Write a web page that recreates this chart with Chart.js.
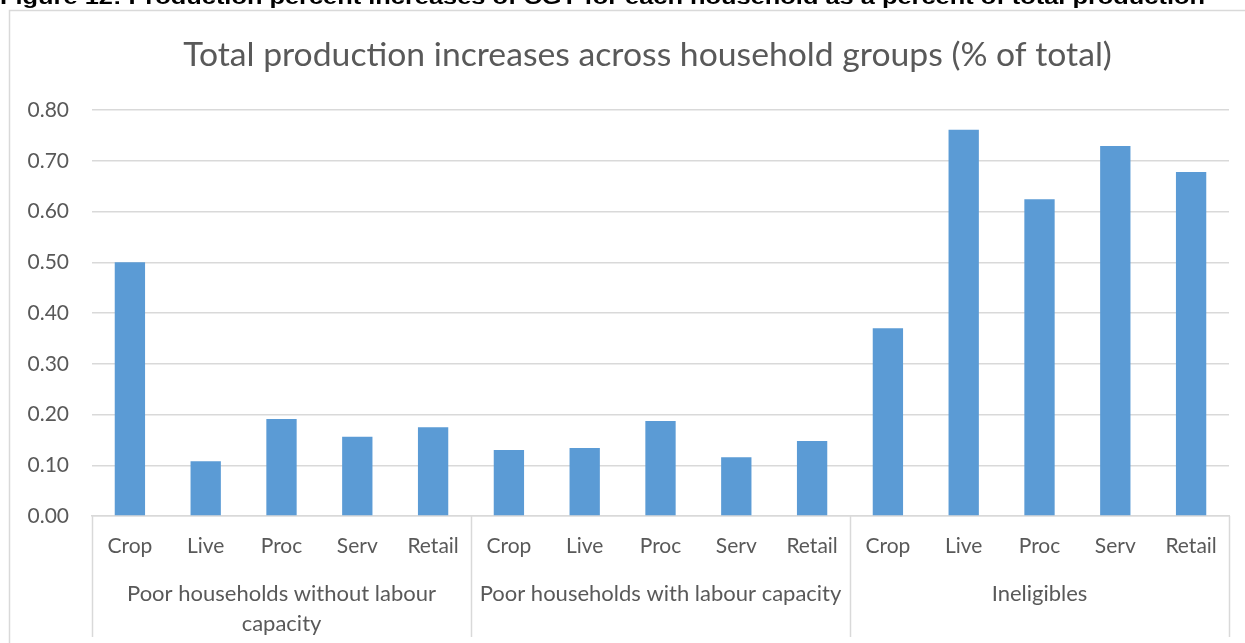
<!DOCTYPE html>
<html>
<head>
<meta charset="utf-8">
<script src="https://cdn.jsdelivr.net/npm/chart.js@4/dist/chart.umd.min.js"></script>
<style>
html, body { margin: 0; padding: 0; background: #fff; overflow: hidden; }
canvas { display: block; }
</style>
</head>
<body>
<canvas id="c" width="1245" height="643"></canvas>
<script>
// Sector labels repeated for each household group
const sectors = ['Crop', 'Live', 'Proc', 'Serv', 'Retail'];
const groupLabels = [
  ['Poor households without labour', 'capacity'],
  ['Poor households with labour capacity'],
  ['Ineligibles']
];
// Production increase (% of total) per sector
const withoutLabour = [0.500, 0.108, 0.191, 0.156, 0.175];
const withLabour    = [0.130, 0.134, 0.187, 0.116, 0.148];
const ineligibles   = [0.370, 0.761, 0.624, 0.729, 0.678];
const yTickStep = 0.1;
const yMax = 0.8;

const chartTitle = 'Total production increases across household groups (% of total)';
const figureCaption = 'Figure 12: Production percent increases of CGT for each household as a percent of total production';

const labels = [...sectors, ...sectors, ...sectors];
const values = [...withoutLabour, ...withLabour, ...ineligibles];

const TEXT = '#595959';
const LINE = '#d9d9d9';
const FONT = 'Lato, "Open Sans", sans-serif';

function fitSize(text, font, weight, target) {
  const ctx = document.createElement('canvas').getContext('2d');
  ctx.font = weight + ' 100px ' + font;
  return 100 * target / ctx.measureText(text).width;
}

const decorations = {
  id: 'decorations',
  beforeDraw(chart) {
    const { ctx, width, height } = chart;
    ctx.save();
    ctx.fillStyle = '#fff';
    ctx.fillRect(0, 0, width, height);
    // outer chart frame
    ctx.strokeStyle = LINE;
    ctx.lineWidth = 1.5;
    ctx.strokeRect(9.5, 10.5, width + 20, height + 20);
    // figure caption above the frame
    ctx.fillStyle = '#000';
    ctx.font = 'bold 21px "Liberation Sans", Arial, sans-serif';
    const w = ctx.measureText(figureCaption).width;
    ctx.translate(0, 4);
    ctx.scale(1205 / w, 1);
    ctx.textBaseline = 'alphabetic';
    ctx.fillText(figureCaption, 0, 0);
    ctx.restore();
  },
  afterDraw(chart) {
    const { ctx, chartArea } = chart;
    const x = chart.scales.x;
    const step = x.getPixelForValue(1) - x.getPixelForValue(0);
    ctx.save();
    // title
    ctx.fillStyle = TEXT;
    const ts = fitSize(chartTitle, FONT, 'normal', 929);
    ctx.font = ts + 'px ' + FONT;
    ctx.textAlign = 'center';
    ctx.textBaseline = 'alphabetic';
    ctx.fillText(chartTitle, 647.5, 66);
    // group separators
    ctx.strokeStyle = LINE;
    ctx.lineWidth = 1.5;
    [-0.5, 4.5, 9.5, 14.5].forEach(b => {
      const px = Math.round(x.getPixelForValue(0) + b * step) + 0.5;
      ctx.beginPath();
      ctx.moveTo(px, chartArea.bottom);
      ctx.lineTo(px, 637);
      ctx.stroke();
    });
    // group labels
    ctx.font = '22px ' + FONT;
    groupLabels.forEach((lines, g) => {
      const cx = x.getPixelForValue(g * 5 + 2);
      lines.forEach((t, i) => ctx.fillText(t, cx, 601 + i * 30));
    });
    ctx.restore();
  }
};

Chart.defaults.font.family = FONT;
Chart.defaults.color = TEXT;

new Chart(document.getElementById('c'), {
  type: 'bar',
  data: {
    labels,
    datasets: [{
      data: values,
      backgroundColor: '#5b9bd5',
      borderWidth: 0,
      barPercentage: 0.4,
      categoryPercentage: 1.0
    }]
  },
  options: {
    responsive: false,
    devicePixelRatio: 1,
    animation: false,
    layout: { padding: { left: 0, top: 110, right: 16, bottom: 0 } },
    plugins: { legend: { display: false }, title: { display: false }, tooltip: { enabled: false } },
    scales: {
      x: {
        afterFit(s) { s.height = 127; },
        grid: { display: false, drawTicks: false },
        border: { display: true, color: LINE, width: 1.5 },
        ticks: { font: { size: 21 }, color: TEXT, padding: 18, maxRotation: 0, autoSkip: false }
      },
      y: {
        min: 0,
        max: yMax,
        afterFit(s) { s.width = 92; },
        grid: { color: LINE, lineWidth: 1.5, drawTicks: false },
        border: { display: false },
        ticks: {
          stepSize: yTickStep,
          padding: 23,
          font: { size: 21 },
          color: TEXT,
          callback: v => v.toFixed(2)
        }
      }
    }
  },
  plugins: [decorations]
});
</script>
</body>
</html>
